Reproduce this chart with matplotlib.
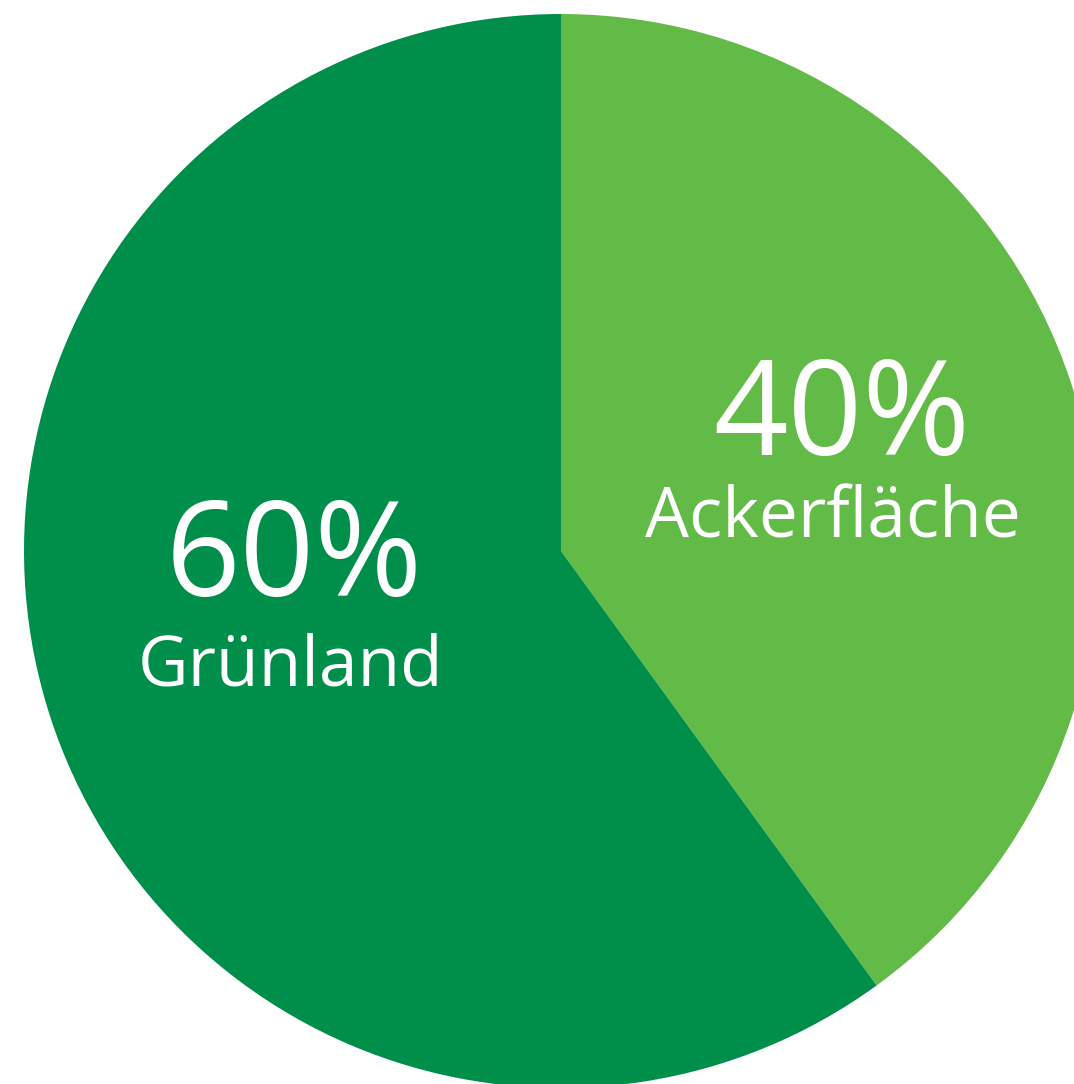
import matplotlib
matplotlib.use("Agg")
import matplotlib.pyplot as plt

labels = ["Ackerfläche", "Grünland"]
values = [40, 60]
pct_labels = ["40%", "60%"]
colors = ["#62BB46", "#008E4B"]

W, H = 1074, 1084
fig = plt.figure(figsize=(W / 100, H / 100), dpi=100)
ax = fig.add_axes([0, 0, 1, 1])

cx, cy, r = 561, H - 551, 537
ax.pie(values, colors=colors, startangle=90, counterclock=False,
       center=(cx, cy), radius=r, frame=True,
       wedgeprops=dict(linewidth=0))
ax.set_xlim(0, W)
ax.set_ylim(0, H)
ax.set_aspect("equal")
ax.axis("off")

font = "Open Sans"
# label positions (image pixel coords: center x, baseline y)
pos = {"Ackerfläche": ((842, 455), (833, 537)),
       "Grünland": ((294, 596), (291, 686))}
for lab, pct in zip(labels, pct_labels):
    (px, py), (lx, ly) = pos[lab]
    ax.text(px, H - py, pct, ha="center", va="baseline", color="white",
            fontsize=94, family=font, fontweight="normal")
    ax.text(lx, H - ly, lab, ha="center", va="baseline", color="white",
            fontsize=50, family=font, fontweight="normal")

fig.savefig("out.png", dpi=100, facecolor="white")
